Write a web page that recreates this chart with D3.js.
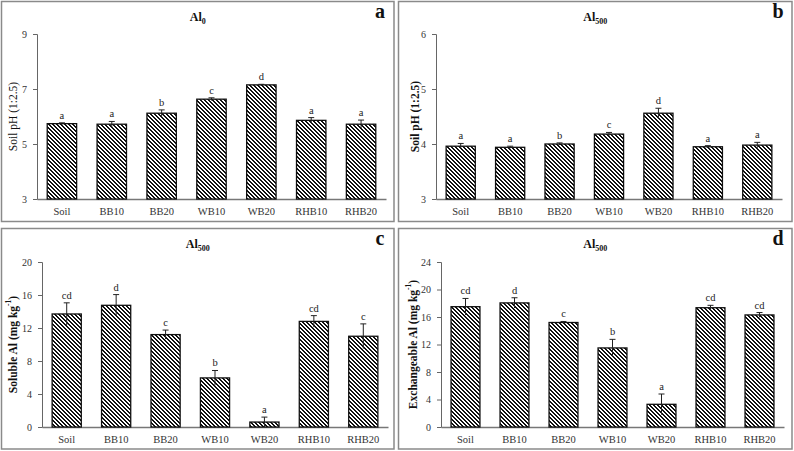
<!DOCTYPE html>
<html>
<head>
<meta charset="utf-8">
<script src="https://cdn.jsdelivr.net/npm/d3@7/dist/d3.min.js"></script>
<style>
  body { margin: 0; background: #fff; }
  svg { display: block; font-family: "Liberation Serif", "Times New Roman", serif; }
  .tick text { fill: #333; }
</style>
</head>
<body>
<svg id="chart" width="794" height="451"></svg>
<script>
const categories = ["Soil", "BB10", "BB20", "WB10", "WB20", "RHB10", "RHB20"];

const phAl0 = [5.74, 5.72, 6.12, 6.63, 7.15, 5.86, 5.72];
const phAl0Err = [0.03, 0.1, 0.12, 0.05, 0.02, 0.1, 0.15];
const phAl0Letters = ["a", "a", "b", "c", "d", "a", "a"];

const phAl500 = [3.96, 3.94, 4.0, 4.18, 4.56, 3.95, 3.98];
const phAl500Err = [0.05, 0.02, 0.02, 0.03, 0.09, 0.02, 0.05];
const phAl500Letters = ["a", "a", "b", "c", "d", "a", "a"];

const solubleAl = [13.7, 14.75, 11.2, 5.95, 0.6, 12.8, 11.0];
const solubleAlErr = [1.35, 1.3, 0.55, 0.9, 0.6, 0.7, 1.5];
const solubleAlLetters = ["cd", "d", "c", "b", "a", "cd", "c"];

const exchAl = [17.5, 18.05, 15.2, 11.5, 3.3, 17.35, 16.3];
const exchAlErr = [1.2, 0.75, 0.15, 1.25, 1.5, 0.35, 0.35];
const exchAlLetters = ["cd", "d", "c", "b", "a", "cd", "cd"];

const svg = d3.select("#chart");

// pixel-aligned "\" hatch, 4px tile
const hatch = svg.append("defs").append("pattern")
  .attr("id", "hatch")
  .attr("patternUnits", "userSpaceOnUse")
  .attr("width", 4)
  .attr("height", 4)
  .attr("shape-rendering", "crispEdges");
hatch.append("rect").attr("width", 4).attr("height", 4).attr("fill", "#fff");
d3.range(4).forEach((row) => {
  [0, 1].forEach((k) => {
    hatch.append("rect")
      .attr("x", (row + k) % 4).attr("y", row)
      .attr("width", 1).attr("height", 1)
      .attr("fill", "#111");
  });
});

const panels = [
  {
    box: [1.5, 1.5, 394, 221.5], plot: [37, 386, 34, 199],
    domain: [3, 9], ticks: [3, 5, 7, 9],
    values: phAl0, errs: phAl0Err, letters: phAl0Letters,
    title: ["Al", "0"], letter: "a", ylabel: ["Soil pH (1:2.5)"], boldY: false, ylx: 14
  },
  {
    box: [398.5, 1.5, 792, 221.5], plot: [436, 782, 34, 199],
    domain: [3, 6], ticks: [3, 4, 5, 6],
    values: phAl500, errs: phAl500Err, letters: phAl500Letters,
    title: ["Al", "500"], letter: "b", ylabel: ["Soil pH (1:2.5)"], boldY: true, ylx: 416
  },
  {
    box: [1.5, 228.5, 394, 449], plot: [42, 388, 262, 427],
    domain: [0, 20], ticks: [0, 4, 8, 12, 16, 20],
    values: solubleAl, errs: solubleAlErr, letters: solubleAlLetters,
    title: ["Al", "500"], letter: "c", ylabel: ["Soluble Al (mg kg", "-1", ")"], boldY: true, ylx: 14
  },
  {
    box: [398.5, 228.5, 792, 449], plot: [441, 784, 262, 427],
    domain: [0, 24], ticks: [0, 4, 8, 12, 16, 20, 24],
    values: exchAl, errs: exchAlErr, letters: exchAlLetters,
    title: ["Al", "500"], letter: "d", ylabel: ["Exchangeable Al (mg kg", "-1", ")"], boldY: true, ylx: 414
  }
];

panels.forEach(drawPanel);

function drawPanel(p) {
  const [bx0, by0, bx1, by1] = p.box;
  const [x0, x1, yTop, yBot] = p.plot;
  const g = svg.append("g");

  g.append("rect")
    .attr("x", bx0).attr("y", by0)
    .attr("width", bx1 - bx0).attr("height", by1 - by0)
    .attr("fill", "none").attr("stroke", "#8a8a8a").attr("stroke-width", 1.5);

  const x = d3.scaleBand().domain(categories).range([x0, x1]).paddingInner(0.41).paddingOuter(0.205);
  const y = d3.scaleLinear().domain(p.domain).range([yBot, yTop]);

  const yAxis = g.append("g")
    .attr("transform", `translate(${x0},0)`)
    .call(d3.axisLeft(y).tickValues(p.ticks).tickSize(4).tickPadding(6).tickFormat(d3.format("d")));
  yAxis.attr("font-family", null).attr("font-size", 10);
  yAxis.select(".domain").attr("stroke", "#666");
  yAxis.selectAll(".tick line").attr("stroke", "#666");

  const xAxis = g.append("g")
    .attr("transform", `translate(0,${yBot})`)
    .call(d3.axisBottom(x).tickSize(0).tickPadding(9));
  xAxis.attr("font-family", null).attr("font-size", 10.5);
  xAxis.select(".domain").attr("stroke", "#777").attr("stroke-width", 1.5);
  xAxis.selectAll(".tick text").attr("fill", "#222");

  const rows = categories.map((c, i) => ({ c, v: p.values[i], e: p.errs[i], l: p.letters[i] }));

  g.selectAll("rect.bar")
    .data(rows)
    .join("rect")
    .attr("class", "bar")
    .attr("x", (d) => x(d.c))
    .attr("width", x.bandwidth())
    .attr("y", (d) => y(d.v))
    .attr("height", (d) => yBot - y(d.v))
    .attr("fill", "url(#hatch)")
    .attr("stroke", "#111")
    .attr("stroke-width", 1.3);

  const cx = (d) => x(d.c) + x.bandwidth() / 2;

  g.selectAll("line.err")
    .data(rows)
    .join("line")
    .attr("class", "err")
    .attr("x1", cx).attr("x2", cx)
    .attr("y1", (d) => y(d.v - d.e)).attr("y2", (d) => y(d.v + d.e))
    .attr("stroke", "#222").attr("stroke-width", 1);

  g.selectAll("line.cap")
    .data(rows)
    .join("line")
    .attr("class", "cap")
    .attr("x1", (d) => cx(d) - 3).attr("x2", (d) => cx(d) + 3)
    .attr("y1", (d) => y(d.v + d.e)).attr("y2", (d) => y(d.v + d.e))
    .attr("stroke", "#222").attr("stroke-width", 1);

  g.selectAll("text.sig")
    .data(rows)
    .join("text")
    .attr("class", "sig")
    .attr("x", cx)
    .attr("y", (d) => y(d.v + d.e) - 4)
    .attr("text-anchor", "middle")
    .attr("font-size", 10.5)
    .attr("fill", "#222")
    .text((d) => d.l);

  const cxPanel = (bx0 + bx1) / 2;
  const title = g.append("text")
    .attr("x", cxPanel)
    .attr("y", by0 + 19)
    .attr("text-anchor", "middle")
    .attr("font-weight", "bold")
    .attr("font-size", 12)
    .attr("fill", "#111");
  title.append("tspan").text(p.title[0]);
  title.append("tspan").attr("font-size", 8).attr("dy", 3).text(p.title[1]);

  g.append("text")
    .attr("x", bx1 - 14)
    .attr("y", by0 + 16)
    .attr("text-anchor", "middle")
    .attr("font-weight", "bold")
    .attr("font-size", 20)
    .attr("fill", "#111")
    .text(p.letter);

  const ylab = g.append("text")
    .attr("transform", `translate(${p.ylx},${(yTop + yBot) / 2}) rotate(-90)`)
    .attr("text-anchor", "middle")
    .attr("dominant-baseline", "middle")
    .attr("font-weight", p.boldY ? "bold" : "normal")
    .attr("font-size", 11.5)
    .attr("fill", "#111");
  ylab.append("tspan").text(p.ylabel[0]);
  if (p.ylabel.length > 1) {
    ylab.append("tspan").attr("font-size", 7.5).attr("dy", -5).text(p.ylabel[1]);
    ylab.append("tspan").attr("dy", 5).text(p.ylabel[2]);
  }
}
</script>
</body>
</html>
